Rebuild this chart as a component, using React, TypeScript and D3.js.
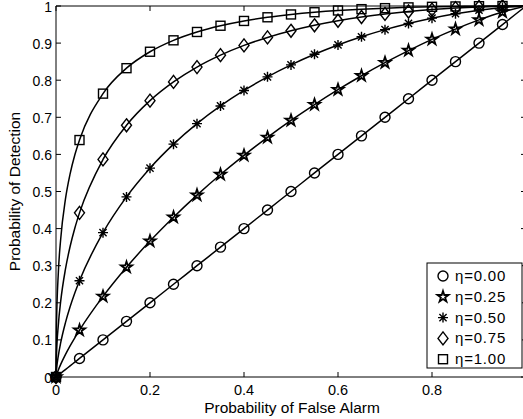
import React from "react";
import * as d3 from "d3";

const markerFa = [0, 0.05, 0.1, 0.15, 0.2, 0.25, 0.3, 0.35, 0.4, 0.45, 0.5, 0.55, 0.6, 0.65, 0.7, 0.75, 0.8, 0.85, 0.9, 0.95];
const pd000 = [0, 0.05, 0.1, 0.15, 0.2, 0.25, 0.3, 0.35, 0.4, 0.45, 0.5, 0.55, 0.6, 0.65, 0.7, 0.75, 0.8, 0.85, 0.9, 0.95];
const pd025 = [0, 0.1261, 0.2172, 0.2958, 0.3663, 0.4307, 0.4903, 0.5457, 0.5974, 0.6459, 0.6915, 0.7342, 0.7744, 0.812, 0.8472, 0.8799, 0.9101, 0.9378, 0.9626, 0.984];
const pd050 = [0, 0.2595, 0.3891, 0.4855, 0.5629, 0.6276, 0.6829, 0.7306, 0.7724, 0.809, 0.8413, 0.8699, 0.895, 0.917, 0.9363, 0.953, 0.9672, 0.9791, 0.9887, 0.9959];
const pd075 = [0, 0.4424, 0.5864, 0.6785, 0.7449, 0.7954, 0.8354, 0.8675, 0.8938, 0.9153, 0.9332, 0.948, 0.9602, 0.9703, 0.9785, 0.9852, 0.9904, 0.9944, 0.9973, 0.9992];
const pd100 = [0, 0.6387, 0.7638, 0.8324, 0.8767, 0.9075, 0.93, 0.9468, 0.9597, 0.9696, 0.9772, 0.9832, 0.9879, 0.9915, 0.9942, 0.9963, 0.9978, 0.9988, 0.9995, 0.9999];

// extra points near the origin for the smooth curves
const lowFa = [0.001, 0.005, 0.01, 0.02, 0.03, 0.04];
const low000 = [0.001, 0.005, 0.01, 0.02, 0.03, 0.04];
const low025 = [0.0048, 0.019, 0.0339, 0.0601, 0.0837, 0.1055];
const low050 = [0.0183, 0.0575, 0.0924, 0.146, 0.1892, 0.2264];
const low075 = [0.0559, 0.141, 0.2043, 0.2899, 0.3517, 0.401];
const low100 = [0.1378, 0.2824, 0.3721, 0.4786, 0.5474, 0.5984];

const seriesNames = ["η=0.00", "η=0.25", "η=0.50", "η=0.75", "η=1.00"];
const seriesMarkers = ["circle", "star", "asterisk", "diamond", "square"];
const seriesPd = [pd000, pd025, pd050, pd075, pd100];
const seriesLow = [low000, low025, low050, low075, low100];

const xTicks = [0, 0.2, 0.4, 0.6, 0.8];
const xTickLabels = ["0", "0.2", "0.4", "0.6", "0.8"];
const yTicks = [0, 0.1, 0.2, 0.3, 0.4, 0.5, 0.6, 0.7, 0.8, 0.9, 1];
const yTickLabels = ["0", "0.1", "0.2", "0.3", "0.4", "0.5", "0.6", "0.7", "0.8", "0.9", "1"];

const W = 523;
const H = 419;
const L = 56, R = 526, T = 6, B = 377;
const FONT = "'Liberation Sans', Arial, Helvetica, sans-serif";

function Marker({ type, x, y }: { type: string; x: number; y: number }) {
  const sw = 1.4;
  if (type === "circle") return <circle cx={x} cy={y} r={5} fill="none" stroke="#000" strokeWidth={sw} />;
  if (type === "square") return <rect x={x - 4.5} y={y - 4.5} width={9} height={9} fill="none" stroke="#000" strokeWidth={sw} />;
  if (type === "diamond") return <path d={`M${x},${y - 6.5}L${x + 5},${y}L${x},${y + 6.5}L${x - 5},${y}Z`} fill="none" stroke="#000" strokeWidth={sw} />;
  if (type === "star") {
    const p = d3.symbol(d3.symbolStar, 38)();
    return <path d={p || ""} transform={`translate(${x},${y})`} fill="none" stroke="#000" strokeWidth={1.8} />;
  }
  // asterisk
  const r = 5;
  const d = r * 0.72;
  return (
    <path
      d={`M${x - r},${y}L${x + r},${y}M${x},${y - r}L${x},${y + r}M${x - d},${y - d}L${x + d},${y + d}M${x - d},${y + d}L${x + d},${y - d}`}
      stroke="#000"
      strokeWidth={1.4}
      fill="none"
    />
  );
}

export default function App() {
  const x = d3.scaleLinear().domain([0, 1]).range([L, R]);
  const y = d3.scaleLinear().domain([0, 1]).range([B, T]);
  const line = d3
    .line<[number, number]>()
    .x((d) => x(d[0]))
    .y((d) => y(d[1]))
    .curve(d3.curveMonotoneX);

  const legX = 427, legY = 263, legW = 95, legH = 105;

  return (
    <svg width={W} height={H} style={{ position: "absolute", left: 0, top: 0, background: "#fff" }} fontFamily={FONT}>
      <rect x={0} y={0} width={W} height={H} fill="#fff" />
      {/* axes box */}
      <line x1={L} x2={R} y1={T} y2={T} stroke="#000" strokeWidth={1} />
      <line x1={L} x2={R} y1={B} y2={B} stroke="#000" strokeWidth={1} />
      <line x1={L} x2={L} y1={T} y2={B} stroke="#000" strokeWidth={1} />
      <line x1={R} x2={R} y1={T} y2={B} stroke="#000" strokeWidth={1} />
      {xTicks.map((t, i) => (
        <g key={"xt" + i}>
          <line x1={x(t)} x2={x(t)} y1={B} y2={B - 5} stroke="#000" />
          <line x1={x(t)} x2={x(t)} y1={T} y2={T + 5} stroke="#000" />
          <text x={x(t)} y={395} fontSize={14.5} textAnchor="middle" fill="#000">{xTickLabels[i]}</text>
        </g>
      ))}
      {yTicks.map((t, i) => (
        <g key={"yt" + i}>
          <line x1={L} x2={L + 5} y1={y(t)} y2={y(t)} stroke="#000" />
          <line x1={R} x2={R - 5} y1={y(t)} y2={y(t)} stroke="#000" />
          <text x={52} y={y(t) + 5.5} fontSize={14} textAnchor="end" fill="#000">{yTickLabels[i]}</text>
        </g>
      ))}
      {/* curves */}
      {seriesPd.map((pd, si) => {
        const pts: [number, number][] = [];
        pts.push([markerFa[0], pd[0]]);
        lowFa.forEach((f, j) => pts.push([f, seriesLow[si][j]]));
        for (let j = 1; j < markerFa.length; j++) pts.push([markerFa[j], pd[j]]);
        pts.push([1, 1]);
        return <path key={"l" + si} d={line(pts) || ""} fill="none" stroke="#000" strokeWidth={1.5} />;
      })}
      {seriesPd.map((pd, si) => (
        <g key={"m" + si}>
          {markerFa.map((f, j) => (
            <Marker key={j} type={seriesMarkers[si]} x={x(f)} y={y(pd[j])} />
          ))}
        </g>
      ))}
      {/* axis titles */}
      <text x={292} y={413} fontSize={15.5} textAnchor="middle" fill="#000">Probability of False Alarm</text>
      <text transform={`translate(20,${(T + B) / 2}) rotate(-90)`} fontSize={15.5} textAnchor="middle" fill="#000">
        Probability of Detection
      </text>
      {/* legend */}
      <rect x={legX} y={legY} width={legW} height={legH} fill="#fff" stroke="#000" strokeWidth={1} />
      {seriesNames.map((n, i) => {
        const cy = 276 + i * 20.8;
        return (
          <g key={"lg" + i}>
            <Marker type={seriesMarkers[i]} x={443} y={cy} />
            <text x={455} y={cy + 5} fontSize={15} letterSpacing={0.8} fill="#000">{n}</text>
          </g>
        );
      })}
    </svg>
  );
}
